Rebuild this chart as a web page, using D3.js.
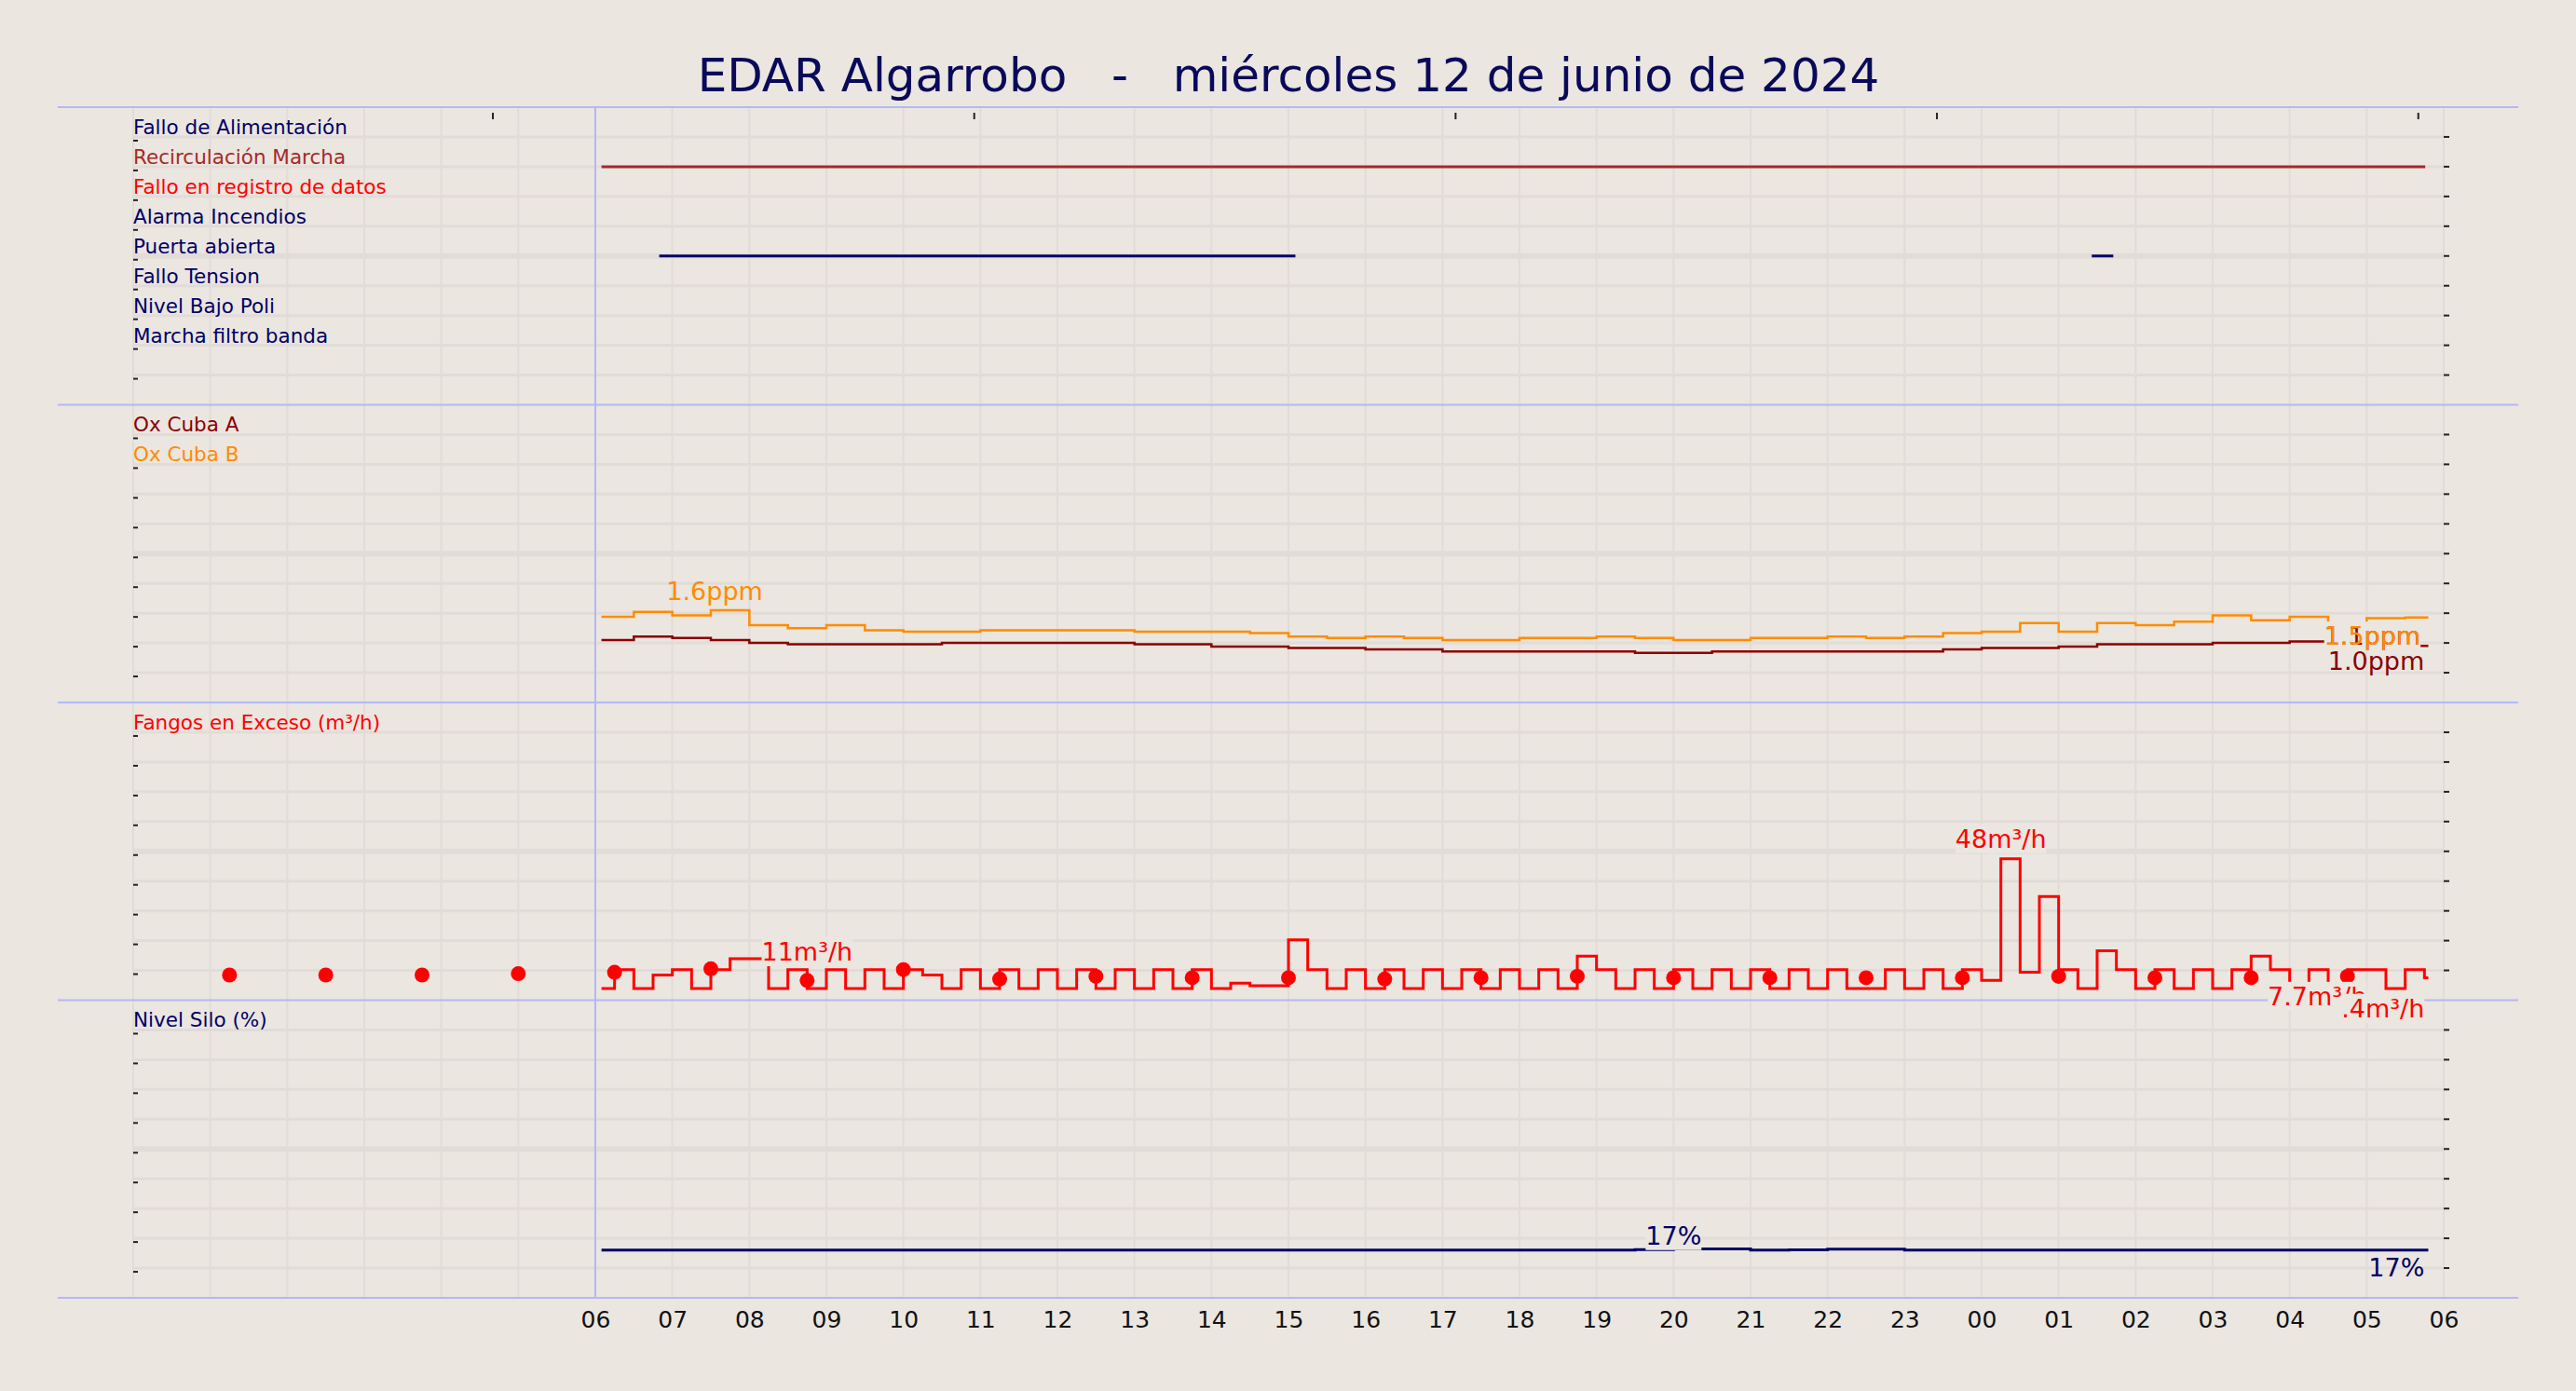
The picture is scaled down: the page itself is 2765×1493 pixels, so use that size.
<!DOCTYPE html>
<html><head><meta charset="utf-8">
<script src="https://cdn.jsdelivr.net/npm/d3@7"></script>
<style>body{margin:0;background:#ebe6e0}svg{display:block}text{font-family:"DejaVu Sans",sans-serif}</style>
</head><body><svg id="c" width="2765" height="1493"></svg>
<script>
const title = "EDAR Algarrobo   -   miércoles 12 de junio de 2024";
const tickLabels = ["06","07","08","09","10","11","12","13","14","15","16","17","18","19","20","21","22","23","00","01","02","03","04","05","06"];
const stateNames = ["Fallo de Alimentación","Recirculación Marcha","Fallo en registro de datos","Alarma Incendios","Puerta abierta","Fallo Tension","Nivel Bajo Poli","Marcha filtro banda"];
const stateColors = ["#000066","#a52a2a","#ff0000","#000066","#000066","#000066","#000066","#000066"];
// active intervals [row, startHour, endHour]
const stateIntervals = [[1,6.08,29.76],[4,6.83,15.09],[4,25.43,25.71]];
const oxHours = d3.range(6,30,0.5);
const oxA = [1.18,1.23,1.21,1.18,1.14,1.12,1.12,1.12,1.12,1.14,1.14,1.14,1.14,1.14,1.12,1.12,1.09,1.09,1.07,1.07,1.05,1.05,1.02,1.02,1.02,1.02,1.02,1.0,1.0,1.02,1.02,1.02,1.02,1.02,1.02,1.05,1.07,1.07,1.09,1.12,1.12,1.12,1.14,1.14,1.16,1.16,1.16,1.1];
const oxB = [1.51,1.58,1.53,1.60,1.39,1.35,1.39,1.32,1.30,1.30,1.32,1.32,1.32,1.32,1.30,1.30,1.30,1.28,1.23,1.21,1.23,1.21,1.18,1.18,1.21,1.21,1.23,1.21,1.18,1.18,1.21,1.21,1.23,1.21,1.23,1.28,1.30,1.42,1.30,1.42,1.39,1.44,1.53,1.46,1.51,1.35,1.49,1.5];
const fangHours = d3.range(6,30,0.25);
const fangos = [0,7,0,5, 7,0,7,11, 11,0,7,0, 7,0,7,0, 7,5,0,7, 0,7,0,7, 0,7,0,7, 0,7,0,7, 0,2,1,1, 18,7,0,7, 0,7,0,7, 0,7,0,7, 0,7,0,12, 7,0,7,0, 7,0,7,0, 7,0,7,0, 7,0,0,7, 0,7,0,7, 3,48,6,34, 7,0,14,7, 0,7,0,7, 0,7,12,7, 0,7,0,7, 7,0,7,4];
const dotHours = d3.range(1,24).map(k=>k*1.25);
const dotVals = [5,5,5,5.5,6,7.3,3,7,3.5,4.5,4,4,3.5,4,4.5,4,4,4,4,4.5,4,4,4.5];
const siloHours = d3.range(6,30,0.5);
const silo = [17,17,17,17,17,17,17,17,17,17,17,17,17,17,17,17,17,17,17,17,17,17,17,17,17,17,17,17.2,17.4,17.4,17,17.1,17.3,17.3,17,17,17,17,17,17,17,17,17,17,17,17,17,17];
const endHour = 29.8;

const svg = d3.select("#c");
const BG="#ebe6e0";
const x = d3.scaleLinear().domain([0,30]).range([143,2623]);
const tops=[115,434.5,754,1073.5], PH=319.5;
const fullL=62, fullR=2703;
svg.append("rect").attr("width",2765).attr("height",1493).attr("fill",BG);
svg.append("text").attr("x",1383).attr("y",98).attr("text-anchor","middle").attr("font-size",50).attr("fill","#0a0a5a").style("white-space","pre").text(title);

tops.forEach((t,i)=>{
  const g=svg.append("g");
  g.selectAll(".vg").data(d3.range(0,31)).join("line").attr("x1",d=>x(d)).attr("x2",d=>x(d)).attr("y1",t).attr("y2",t+PH).attr("stroke","#e2dcd8").attr("stroke-width",2);
  g.selectAll(".hg").data(d3.range(1,10)).join("line").attr("x1",x(0)).attr("x2",x(30)).attr("y1",d=>t+PH*d/10).attr("y2",d=>t+PH*d/10).attr("stroke","#e2dcd8").attr("stroke-width",d=>d==5?6:3);
  g.selectAll(".rt").data(d3.range(1,10)).join("line").attr("x1",x(30)).attr("x2",x(30)+6).attr("y1",d=>t+PH*d/10).attr("y2",d=>t+PH*d/10).attr("stroke","#222").attr("stroke-width",2);
  g.selectAll(".lt").data(d3.range(1,10)).join("line").attr("x1",x(0)).attr("x2",x(0)+5).attr("y1",d=>t+PH*d/10+4).attr("y2",d=>t+PH*d/10+4).attr("stroke","#222").attr("stroke-width",2);
  svg.append("line").attr("x1",fullL).attr("x2",fullR).attr("y1",t).attr("y2",t).attr("stroke","#b4b8f4").attr("stroke-width",2);
});
svg.append("line").attr("x1",fullL).attr("x2",fullR).attr("y1",tops[3]+PH).attr("y2",tops[3]+PH).attr("stroke","#b4b8f4").attr("stroke-width",2);
svg.append("line").attr("x1",x(6)).attr("x2",x(6)).attr("y1",tops[0]).attr("y2",tops[3]+PH).attr("stroke","#b4b8f4").attr("stroke-width",2);
svg.selectAll(".tt").data(d3.range(0,5).map(k=>4.67+6.25*k)).join("line").attr("x1",d=>x(d)).attr("x2",d=>x(d)).attr("y1",tops[0]+6).attr("y2",tops[0]+13).attr("stroke","#222").attr("stroke-width",2);

const xa = d3.axisBottom(x).tickValues(d3.range(6,31)).tickFormat((d,i)=>tickLabels[i]).tickSize(0).tickPadding(14);
const ax = svg.append("g").attr("transform",`translate(0,${tops[3]+PH})`).call(xa);
ax.select(".domain").remove();
ax.selectAll("text").attr("font-size",25).attr("fill","#111").attr("font-family","DejaVu Sans");

function label(t,k,txt,col){svg.append("text").attr("x",x(0)).attr("y",t+PH*k/10-3).attr("font-size",21.5).attr("fill",col).text(txt);}
const y1 = d3.scaleLinear().domain([0,10]).range([tops[0],tops[0]+PH]);
stateNames.forEach((n,i)=>label(tops[0],i+1,n,stateColors[i]));
svg.selectAll(".st").data(stateIntervals).join("line").attr("x1",d=>x(d[1])).attr("x2",d=>x(d[2])).attr("y1",d=>y1(d[0]+1)).attr("y2",d=>y1(d[0]+1)).attr("stroke",d=>stateColors[d[0]]).attr("stroke-width",3);

const step=(xs,ys,sx,sy,end)=>{const pts=xs.map((h,i)=>[h,ys[i]]);pts.push([end,ys[ys.length-1]]);pts[0][0]=6.08;return d3.line().x(d=>sx(d[0])).y(d=>sy(d[1])).curve(d3.curveStepAfter)(pts);};
function vlabel(px,py,txt,col,anchor,bg){
  const t=svg.append("text").attr("x",px).attr("y",py).attr("font-size",27).attr("fill",col).attr("text-anchor",anchor).text(txt);
  if(bg){const b=t.node().getBBox();svg.insert("rect",()=>t.node()).attr("x",b.x).attr("y",b.y).attr("width",b.width).attr("height",b.height).attr("fill",BG);}
}
const y2 = d3.scaleLinear().domain([0.3,4.5]).range([tops[1]+PH,tops[1]]);
label(tops[1],1,"Ox Cuba A","#8b0000");label(tops[1],2,"Ox Cuba B","#ff8c00");
svg.append("path").attr("d",step(oxHours,oxB,x,y2,endHour)).attr("fill","none").attr("stroke","#ff8c00").attr("stroke-width",2.5);
svg.append("path").attr("d",step(oxHours,oxA,x,y2,endHour)).attr("fill","none").attr("stroke","#8b0000").attr("stroke-width",2.5);
vlabel(x(7.55),y2(1.6)-11,"1.6ppm","#ff8c00","middle",false);
vlabel(x(29.7),y2(1.1)-1,"1.1ppm","#8b0000","end",true);
vlabel(x(29.7),y2(1.3)+14,"1.5ppm","#ff8c00","end",false);
vlabel(x(29.75),y2(1.0)+18,"1.0ppm","#8b0000","end",false);
const y3 = d3.scaleLinear().domain([-4.3,105.8]).range([tops[2]+PH,tops[2]]);
label(tops[2],1,"Fangos en Exceso (m³/h)","#ff0000");
svg.append("path").attr("d",step(fangHours,fangos,x,y3,endHour)).attr("fill","none").attr("stroke","#ff0000").attr("stroke-width",3);
svg.selectAll(".dot").data(dotHours).join("circle").attr("cx",d=>x(d)).attr("cy",(d,i)=>y3(dotVals[i])).attr("r",8).attr("fill","#ff0000");
vlabel(x(24.25),y3(48)-12,"48m³/h","#ff0000","middle",true);
vlabel(x(8.75),y3(11)+2,"11m³/h","#ff0000","middle",true);
vlabel(x(29.0),y3(-2)+12,"7.7m³/h","#ff0000","end",true);
vlabel(x(29.75),y3(-3)+22,".4m³/h","#ff0000","end",true);
const y4 = d3.scaleLinear().domain([0,106]).range([tops[3]+PH,tops[3]]);
label(tops[3],1,"Nivel Silo (%)","#000066");
svg.append("path").attr("d",step(siloHours,silo,x,y4,endHour)).attr("fill","none").attr("stroke","#000066").attr("stroke-width",3);
vlabel(x(20),y4(17)-6,"17%","#000066","middle",true);
vlabel(x(29.75),y4(17)+28,"17%","#000066","end",false);
</script></body></html>
